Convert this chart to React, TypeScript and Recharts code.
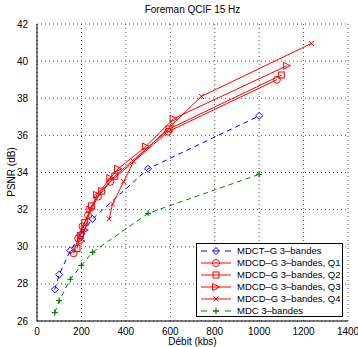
import { LineChart, Line, XAxis, YAxis, CartesianGrid } from 'recharts';

type Pt = { x: number; y: number };

const xTicks = [0, 200, 400, 600, 800, 1000, 1200, 1400];
const yTicks = [26, 28, 30, 32, 34, 36, 38, 40, 42];

const mdctRate = [80, 100, 150, 200, 250, 500, 1000];
const mdctPsnr = [27.7, 28.5, 29.8, 30.7, 31.5, 34.2, 37.05];

const q1Rate = [165, 185, 205, 230, 275, 330, 590, 1080];
const q1Psnr = [29.65, 30.45, 31.1, 31.7, 32.7, 33.5, 36.2, 39.0];

const q2Rate = [180, 195, 215, 245, 290, 350, 595, 1100];
const q2Psnr = [29.9, 30.6, 31.3, 32.2, 33.0, 33.8, 36.35, 39.25];

const q3Rate = [200, 215, 240, 270, 330, 365, 490, 615, 1125];
const q3Psnr = [30.3, 30.9, 32.0, 32.8, 33.7, 34.2, 35.4, 36.9, 39.75];

const q4Rate = [325, 340, 390, 435, 610, 740, 1235];
const q4Psnr = [31.5, 32.3, 33.5, 34.6, 36.6, 38.1, 40.95];

const mdcRate = [80, 100, 150, 200, 250, 500, 1000];
const mdcPsnr = [26.45, 27.1, 28.25, 29.0, 29.7, 31.8, 33.9];

const zip = (xs: number[], ys: number[]): Pt[] => xs.map((x, i) => ({ x, y: ys[i] }));

const marker = (kind: string, color: string, cx: number, cy: number, key?: any) => {
  const s = 3.5;
  switch (kind) {
    case 'diamond':
      return <path key={key} d={`M${cx},${cy - s} L${cx + s},${cy} L${cx},${cy + s} L${cx - s},${cy} Z`} fill="none" stroke={color} strokeWidth={1} />;
    case 'circle':
      return <circle key={key} cx={cx} cy={cy} r={s} fill="none" stroke={color} strokeWidth={1} />;
    case 'square':
      return <rect key={key} x={cx - 3} y={cy - 3} width={6} height={6} fill="none" stroke={color} strokeWidth={1} />;
    case 'triangle':
      return <path key={key} d={`M${cx + s},${cy} L${cx - s},${cy - s} L${cx - s},${cy + s} Z`} fill="none" stroke={color} strokeWidth={1} />;
    case 'x':
      return <path key={key} d={`M${cx - 2.5},${cy - 2.5} L${cx + 2.5},${cy + 2.5} M${cx - 2.5},${cy + 2.5} L${cx + 2.5},${cy - 2.5}`} stroke={color} strokeWidth={1} />;
    default:
      return <path key={key} d={`M${cx - 3},${cy} L${cx + 3},${cy} M${cx},${cy - 3} L${cx},${cy + 3}`} stroke={color} strokeWidth={1.2} />;
  }
};

const series = [
  { name: 'MDCT–G 3–bandes', data: zip(mdctRate, mdctPsnr), color: '#0000ff', kind: 'diamond', dash: '5 4' },
  { name: 'MDCD–G 3–bandes, Q1', data: zip(q1Rate, q1Psnr), color: '#ff0000', kind: 'circle', dash: undefined },
  { name: 'MDCD–G 3–bandes, Q2', data: zip(q2Rate, q2Psnr), color: '#ff0000', kind: 'square', dash: undefined },
  { name: 'MDCD–G 3–bandes, Q3', data: zip(q3Rate, q3Psnr), color: '#ff0000', kind: 'triangle', dash: undefined },
  { name: 'MDCD–G 3–bandes, Q4', data: zip(q4Rate, q4Psnr), color: '#ff0000', kind: 'x', dash: undefined },
  { name: 'MDC 3–bandes', data: zip(mdcRate, mdcPsnr), color: '#008000', kind: 'plus', dash: '5 4' },
];

const font = 'Liberation Sans, Arial, sans-serif';

export default function App() {
  return (
    <div style={{ position: 'absolute', left: 0, top: 0, width: 358, height: 347, background: '#fff', fontFamily: font }}>
      <LineChart width={358} height={347} margin={{ top: 24, right: 10, bottom: 6, left: 0 }}>
        <CartesianGrid stroke="#555" strokeDasharray="1 3" horizontalValues={yTicks} verticalValues={xTicks} />
        <XAxis type="number" dataKey="x" domain={[0, 1400]} ticks={xTicks} allowDataOverflow height={20}
          tick={{ fontSize: 10, fill: '#000', fontFamily: font }} tickLine={false} tickMargin={1}
          axisLine={{ stroke: '#000' }} />
        <XAxis xAxisId="top" orientation="top" type="number" dataKey="x" domain={[0, 1400]} tick={false} tickLine={false} axisLine={{ stroke: '#000' }} height={0} />
        <YAxis type="number" domain={[26, 42]} ticks={yTicks} allowDataOverflow width={37}
          tick={{ fontSize: 10, fill: '#000', fontFamily: font }} tickLine={false} tickMargin={3}
          axisLine={{ stroke: '#000' }} />
        <YAxis yAxisId="right" orientation="right" type="number" domain={[26, 42]} tick={false} tickLine={false} axisLine={{ stroke: '#000' }} width={0} />
        {series.map((s) => (
          <Line key={s.name} data={s.data} dataKey="y" type="linear" stroke={s.color} strokeWidth={1}
            strokeDasharray={s.dash} isAnimationActive={false}
            dot={(p: any) => marker(s.kind, s.color, p.cx, p.cy, `${s.name}-${p.index}`)} activeDot={false} />
        ))}
      </LineChart>
      <div style={{ position: 'absolute', left: 37, width: 311, top: 4, textAlign: 'center', fontSize: 10, lineHeight: '12px' }}>Foreman QCIF 15 Hz</div>
      <div style={{ position: 'absolute', left: 37, width: 311, top: 336, textAlign: 'center', fontSize: 10, lineHeight: '11px' }}>Débit (kbs)</div>
      <div style={{ position: 'absolute', left: 12, top: 172, fontSize: 10, lineHeight: '12px', whiteSpace: 'nowrap', transform: 'translate(-50%, -50%) rotate(-90deg)' }}>PSNR (dB)</div>
      <div style={{ position: 'absolute', left: 196, top: 243, width: 147, height: 74, border: '1px solid #000', background: '#fff', boxSizing: 'border-box', paddingTop: 1, overflow: 'hidden' }}>
        {series.map((s) => (
          <div key={s.name} style={{ display: 'flex', alignItems: 'center', height: 12, lineHeight: '12px', fontSize: 9.5, whiteSpace: 'nowrap' }}>
            <svg width={34} height={10} style={{ marginLeft: 3, flex: 'none' }}>
              <line x1={1} y1={5} x2={31} y2={5} stroke={s.color} strokeWidth={1} strokeDasharray={s.dash ? '6 6' : undefined} />
              {marker(s.kind, s.color, 16, 5)}
            </svg>
            <span style={{ marginLeft: 3 }}>{s.name}</span>
          </div>
        ))}
      </div>
    </div>
  );
}
